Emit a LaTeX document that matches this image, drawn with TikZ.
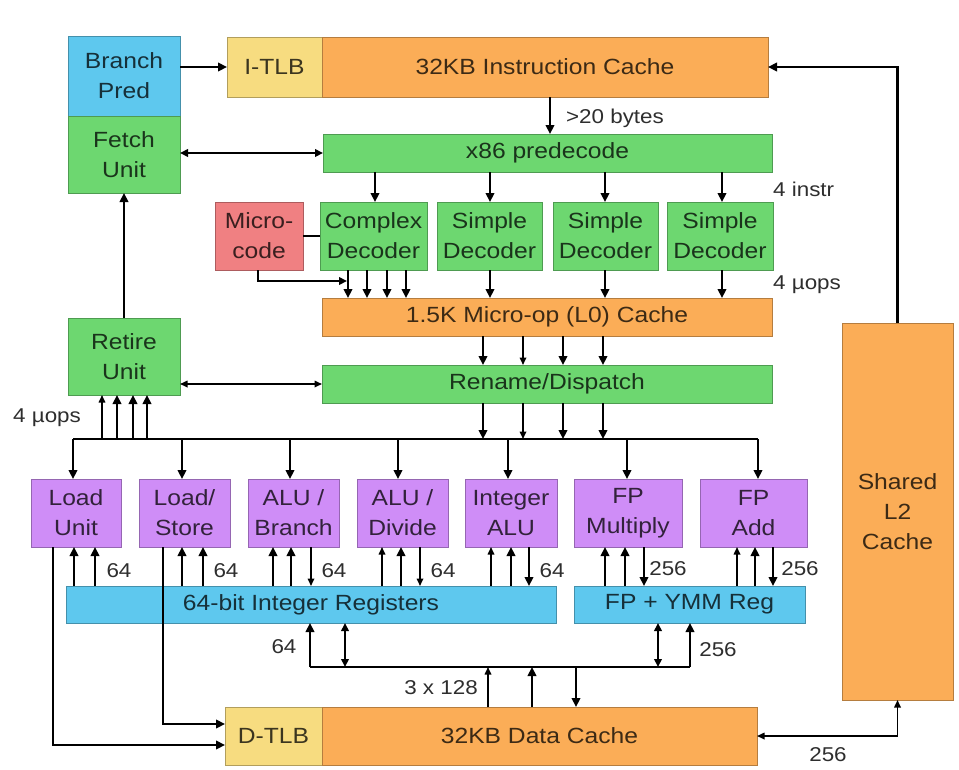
\documentclass[tikz,border=0pt]{standalone}
\usepackage{fontspec}
\setmainfont{Liberation Sans}[FakeStretch=1.12]
\usetikzlibrary{arrows.meta}
\definecolor{cblue}{HTML}{5EC8EE}
\definecolor{cgreen}{HTML}{6DD770}
\definecolor{corange}{HTML}{FBAD57}
\definecolor{cyellow}{HTML}{F7DC80}
\definecolor{cpink}{HTML}{F08082}
\definecolor{cpurple}{HTML}{CF8DF7}
\definecolor{labgray}{HTML}{2E2E2E}
\begin{document}
\begin{tikzpicture}[x=1pt,y=-1pt,
  box/.style={draw=#1!72!black, fill=#1, line width=1pt, inner sep=0pt, outer sep=0pt,
    align=center, text=#1!24!black, font=\fontsize{22}{30}\selectfont},
  lab/.style={text=labgray, font=\fontsize{20}{24}\selectfont, inner sep=0pt},
  arr/.style={line width=2.8pt, -{Triangle[length=9pt,width=8.5pt]}},
  tarr/.style={line width=1.6pt, -{Triangle[length=7.5pt,width=6.5pt]}},
  darr/.style={line width=2.6pt, {Triangle[length=8pt,width=7.5pt]}-{Triangle[length=8pt,width=7.5pt]}},
  tdarr/.style={line width=1.6pt, {Triangle[length=7.5pt,width=6.5pt]}-{Triangle[length=7.5pt,width=6.5pt]}},
  wire/.style={line width=2.6pt}]
\useasboundingbox (0,0) rectangle (959,769);
\fill[white] (0,0) rectangle (959,769);

% ---- front end ----
\node[box=cblue, minimum width=112pt, minimum height=80pt] (bp) at (124,76) {Branch\\Pred};
\node[box=cgreen, minimum width=112pt, minimum height=77pt] (fetch) at (124,154.5) {Fetch\\Unit};
\node[box=cyellow, minimum width=95pt, minimum height=60pt] (itlb) at (274.5,67) {I-TLB};
\node[box=corange, minimum width=446pt, minimum height=60pt] (icache) at (545,67) {32KB Instruction Cache};
\node[box=cgreen, minimum width=449pt, minimum height=38pt] (pre) at (547.5,153) {x86 predecode};
\node[box=cpink, minimum width=88pt, minimum height=68pt] (micro) at (259,236) {Micro-\\code};
\node[box=cgreen, minimum width=107pt, minimum height=68pt] (cdec) at (373.5,236) {Complex\\Decoder};
\node[box=cgreen, minimum width=105pt, minimum height=68pt] (sd1) at (489.5,236) {Simple\\Decoder};
\node[box=cgreen, minimum width=105pt, minimum height=68pt] (sd2) at (605.5,236) {Simple\\Decoder};
\node[box=cgreen, minimum width=106pt, minimum height=68pt] (sd3) at (720,236) {Simple\\Decoder};
\node[box=corange, minimum width=450pt, minimum height=38pt] (l0) at (547,317) {1.5K Micro-op (L0) Cache};
\node[box=cgreen, minimum width=450pt, minimum height=38pt] (ren) at (547,384) {Rename/Dispatch};
\node[box=cgreen, minimum width=112pt, minimum height=77pt] (retire) at (124,356.5) {Retire\\Unit};

% ---- execution units ----
\node[box=cpurple, minimum width=90pt, minimum height=68pt] (lu) at (76,513) {Load\\Unit};
\node[box=cpurple, minimum width=91pt, minimum height=68pt] (ls) at (184.5,513) {Load/\\Store};
\node[box=cpurple, minimum width=91pt, minimum height=68pt] (ab) at (293.5,513) {ALU /\\Branch};
\node[box=cpurple, minimum width=91pt, minimum height=68pt] (ad) at (402.5,513) {ALU /\\Divide};
\node[box=cpurple, minimum width=92pt, minimum height=68pt] (ia) at (511,513) {Integer\\ALU};
\node[box=cpurple, minimum width=108pt, minimum height=68pt] (fm) at (628,513) {FP\\Multiply};
\node[box=cpurple, minimum width=107pt, minimum height=68pt] (fa) at (753.5,513) {FP\\Add};

\node[box=cblue, minimum width=490pt, minimum height=37pt] (ireg) at (311,604.5) {64-bit Integer Registers};
\node[box=cblue, minimum width=231pt, minimum height=37pt] (freg) at (689.5,604.5) {FP + YMM Reg};
\node[box=cyellow, minimum width=97pt, minimum height=58pt] (dtlb) at (273.5,736) {D-TLB};
\node[box=corange, minimum width=435pt, minimum height=58pt] (dcache) at (539.5,736) {32KB Data Cache};
\node[box=corange, minimum width=111pt, minimum height=377pt] (l2) at (897.5,511.5) {Shared\\L2\\Cache};

% ---- front-end connectors ----
\draw[arr] (bp.east |- itlb.west) -- (itlb.west);
\draw[darr] (fetch.east |- pre.west) -- (pre.west);
\draw[arr] (550,0 |- icache.south) -- (550,0 |- pre.north);
\draw[arr] (l2.north) |- (icache.east);
\foreach \x/\d in {375/cdec, 490/sd1, 605/sd2, 722/sd3}
  \draw[arr] (\x,0 |- pre.south) -- (\x,0 |- \d.north);
\draw[wire] (micro.east |- cdec.west) -- (cdec.west);
\foreach \x in {348,367,387,406}
  \draw[arr] (\x,0 |- cdec.south) -- (\x,0 |- l0.north);
\coordinate (mj) at (347,281);
\draw[line width=2.6pt, -{Triangle[length=8pt,width=7.5pt]}] (258,0 |- micro.south) |- (mj);
\foreach \x/\d in {490/sd1, 605/sd2, 722/sd3}
  \draw[arr] (\x,0 |- \d.south) -- (\x,0 |- l0.north);
\foreach \x/\s in {483/arr, 523/tarr, 563/arr, 603/arr}
  \draw[\s] (\x,0 |- l0.south) -- (\x,0 |- ren.north);

% ---- dispatch bus ----
\coordinate (busL) at (73,439);
\coordinate (busR) at (758,439);
\draw[wire] (busL) -- (busR);
\foreach \x/\s in {483/arr, 523/tarr, 563/arr, 603/arr}
  \draw[\s] (\x,0 |- ren.south) -- (\x,0 |- busL);
\draw[arr] (retire.north) -- (fetch.south);
\draw[tdarr] (retire.east |- ren.west) -- (ren.west);
\foreach \x/\s in {102/tarr, 117/arr, 133/arr, 147/arr}
  \draw[\s] (\x,0 |- busL) -- (\x,0 |- retire.south);
\foreach \x/\u in {73/lu, 182/ls, 290/ab, 398/ad, 508/ia, 627/fm, 758/fa}
  \draw[arr] (\x,0 |- busL) -- (\x,0 |- \u.north);

% ---- unit <-> register connectors ----
\foreach \x/\u/\s in {74/lu/arr, 95/lu/arr, 182/ls/arr, 203/ls/arr, 273/ab/arr, 291/ab/arr,
    382/ad/tarr, 401/ad/arr, 491/ia/tarr, 511/ia/arr}
  \draw[\s] (\x,0 |- ireg.north) -- (\x,0 |- \u.south);
\foreach \x/\u/\s in {311/ab/tarr, 420/ad/tarr, 529/ia/arr}
  \draw[\s] (\x,0 |- \u.south) -- (\x,0 |- ireg.north);
\foreach \x/\u/\s in {605/fm/arr, 625/fm/arr, 737/fa/tarr, 755/fa/arr}
  \draw[\s] (\x,0 |- freg.north) -- (\x,0 |- \u.south);
\foreach \x/\u in {644/fm, 773/fa}
  \draw[arr] (\x,0 |- \u.south) -- (\x,0 |- freg.north);

\node[lab] (l64a) at (119,571) {64};
\node[lab] (l64b) at (226,571) {64};
\node[lab] (l64c) at (334,571) {64};
\node[lab] (l64d) at (443,571) {64};
\node[lab] (l64e) at (552,571) {64};
\node[lab] (l256a) at (668,569) {256};
\node[lab] (l256b) at (800,569) {256};

% ---- load paths to D-TLB ----
\draw[arr] (53,0 |- lu.south) |- (dtlb.west |- 0,745);
\draw[arr] (163,0 |- ls.south) |- (dtlb.west |- 0,724);

% ---- register <-> data cache bus ----
\coordinate (lbL) at (310,667);
\coordinate (lbR) at (690,667);
\draw[wire] (lbL) -- (lbR);
\draw[arr] (lbL) -- (lbL |- ireg.south);
\draw[darr] (345,0 |- ireg.south) -- (345,0 |- lbL);
\draw[darr] (658,0 |- freg.south) -- (658,0 |- lbL);
\draw[arr] (lbR) -- (lbR |- freg.south);
\draw[tarr] (488,0 |- dcache.north) -- (488,0 |- lbL);
\draw[arr] (532,0 |- dcache.north) -- (532,0 |- lbL);
\draw[arr] (576,0 |- lbL) -- (576,0 |- dcache.north);
\draw[tdarr] (dcache.east) -| (l2.south);

% ---- labels ----
\node[lab] (lbytes) at (615,118) {>20 bytes};
\node[lab, anchor=west] (linstr) at (773,189) {4 instr};
\node[lab, anchor=west] (luops) at (773,285) {4 µops};
\node[lab, anchor=west] (luops2) at (13,418) {4 µops};
\node[lab] (l64f) at (284,647) {64};
\node[lab] (l256c) at (718,650) {256};
\node[lab] (l3x) at (441,688) {3 x 128};
\node[lab] (l256d) at (828,755) {256};
\end{tikzpicture}
\end{document}
